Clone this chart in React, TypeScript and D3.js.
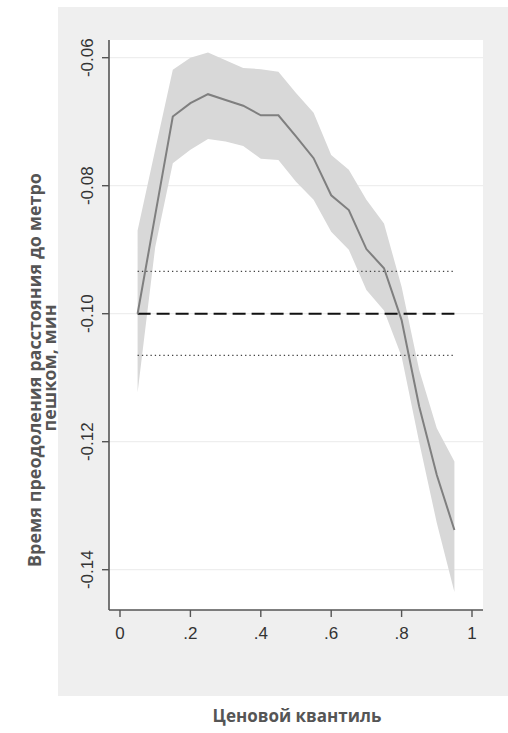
import React from "react";
import * as d3 from "d3";

const quantiles = [0.05, 0.1, 0.15, 0.2, 0.25, 0.3, 0.35, 0.4, 0.45, 0.5, 0.55, 0.6, 0.65, 0.7, 0.75, 0.8, 0.85, 0.9, 0.95];
const estimate = [-0.1, -0.0846, -0.0692, -0.0671, -0.0657, -0.0666, -0.0675, -0.069, -0.069, -0.0723, -0.0757, -0.0815, -0.0838, -0.0899, -0.0929, -0.101, -0.1145, -0.1252, -0.1338];
const upper = [-0.087, -0.0744, -0.0619, -0.06, -0.0592, -0.0604, -0.0616, -0.0618, -0.0622, -0.0655, -0.0686, -0.0752, -0.0775, -0.0822, -0.0859, -0.0958, -0.1088, -0.1179, -0.1231];
const lower = [-0.1123, -0.0896, -0.0765, -0.0744, -0.0727, -0.0731, -0.0738, -0.0758, -0.076, -0.0794, -0.0822, -0.0872, -0.09, -0.0963, -0.0995, -0.1067, -0.1201, -0.1327, -0.1435];

const olsEstimate = -0.1;
const olsUpper = -0.0934;
const olsLower = -0.1065;
const olsRange = [0.05, 0.95];

const xTicks = [0, 0.2, 0.4, 0.6, 0.8, 1];
const xTickLabels = ["0", ".2", ".4", ".6", ".8", "1"];
const yTicks = [-0.06, -0.08, -0.1, -0.12, -0.14];
const yTickLabels = ["-0.06", "-0.08", "-0.10", "-0.12", "-0.14"];

const yTitle1 = "Время преодоления расстояния до метро";
const yTitle2 = "пешком, мин";
const xTitle = "Ценовой квантиль";

const W = 508;
const H = 733;
const plotLeft = 109;
const plotRight = 483;
const plotTop = 40;
const plotBottom = 610;

export default function App() {
  const x = d3.scaleLinear().domain([0, 1]).range([120, 472]);
  const y = d3.scaleLinear().domain([-0.06, -0.14]).range([57.7, 569.7]);

  const rows = quantiles.map((q, i) => ({ q, est: estimate[i], hi: upper[i], lo: lower[i] }));
  const area = d3
    .area<any>()
    .x((d) => x(d.q))
    .y0((d) => y(d.lo))
    .y1((d) => y(d.hi));
  const line = d3
    .line<any>()
    .x((d) => x(d.q))
    .y((d) => y(d.est));

  const tickFont = "'Liberation Sans', Arial, sans-serif";
  const titleFont = "'Open Sans', 'DejaVu Sans', sans-serif";

  return (
    <div style={{ position: "absolute", left: 0, top: 0 }}>
      <svg width={W} height={H} style={{ display: "block" }}>
        <rect x={0} y={0} width={W} height={H} fill="#ffffff" />
        <rect x={58} y={7} width={W - 58} height={696 - 7} fill="#efefef" />
        <rect x={plotLeft} y={plotTop} width={plotRight - plotLeft} height={plotBottom - plotTop} fill="#ffffff" />
        {yTicks.map((t) => (
          <line key={"g" + t} x1={plotLeft} x2={plotRight} y1={y(t)} y2={y(t)} stroke="#ebebeb" strokeWidth={1} />
        ))}
        <path d={area(rows) || ""} fill="#d8d8d8" />
        <line x1={x(olsRange[0])} x2={x(olsRange[1])} y1={y(olsUpper)} y2={y(olsUpper)} stroke="#444" strokeWidth={1.3} strokeDasharray="1.3 3" />
        <line x1={x(olsRange[0])} x2={x(olsRange[1])} y1={y(olsLower)} y2={y(olsLower)} stroke="#444" strokeWidth={1.3} strokeDasharray="1.3 3" />
        <line x1={x(olsRange[0])} x2={x(olsRange[1])} y1={y(olsEstimate)} y2={y(olsEstimate)} stroke="#111" strokeWidth={2} strokeDasharray="13 6" />
        <path d={line(rows) || ""} fill="none" stroke="#7f7f7f" strokeWidth={2} />
        <line x1={plotLeft} x2={plotLeft} y1={plotTop} y2={plotBottom} stroke="#555" strokeWidth={1.6} />
        <line x1={plotLeft} x2={plotRight} y1={plotBottom} y2={plotBottom} stroke="#555" strokeWidth={1.6} />
        {yTicks.map((t, i) => (
          <g key={"y" + t}>
            <line x1={plotLeft - 7} x2={plotLeft} y1={y(t)} y2={y(t)} stroke="#555" strokeWidth={1.4} />
            <text
              transform={`translate(93, ${y(t)}) rotate(-90)`}
              textAnchor="middle"
              fontFamily={tickFont}
              fontSize={17}
              fill="#333"
            >
              {yTickLabels[i]}
            </text>
          </g>
        ))}
        {xTicks.map((t, i) => (
          <g key={"x" + t}>
            <line x1={x(t)} x2={x(t)} y1={plotBottom} y2={plotBottom + 7} stroke="#555" strokeWidth={1.4} />
            <text x={x(t)} y={639} textAnchor="middle" fontFamily={tickFont} fontSize={17} fill="#333">
              {xTickLabels[i]}
            </text>
          </g>
        ))}
        <text
          transform={`translate(41, 370) rotate(-90)`}
          textAnchor="middle"
          fontFamily={titleFont}
          fontWeight="bold"
          fontSize={18}
          fill="#555"
        >
          {yTitle1}
        </text>
        <text
          transform={`translate(56, 368) rotate(-90)`}
          textAnchor="middle"
          fontFamily={titleFont}
          fontWeight="bold"
          fontSize={18}
          fill="#555"
        >
          {yTitle2}
        </text>
        <text x={297} y={722} textAnchor="middle" fontFamily={titleFont} fontWeight="bold" fontSize={17} fill="#555">
          {xTitle}
        </text>
      </svg>
    </div>
  );
}
